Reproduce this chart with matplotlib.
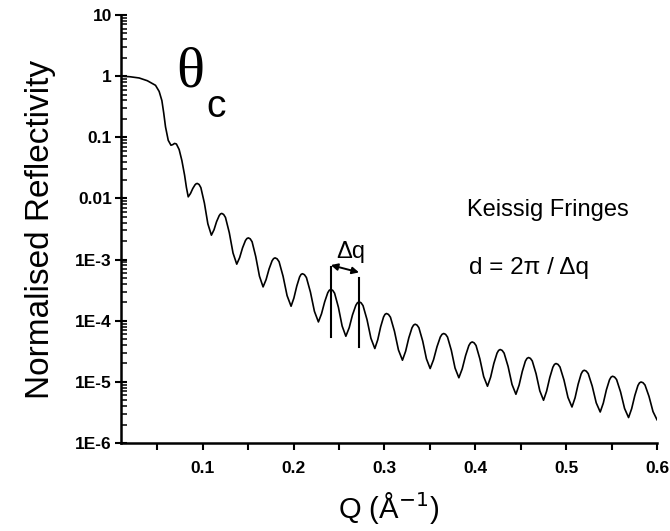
import numpy as np
import matplotlib
matplotlib.use("Agg")
import matplotlib.pyplot as plt
from matplotlib.ticker import FixedLocator, LogLocator, NullFormatter

# ---- data (Q in 1/Angstrom, log10 of reflectivity) ----
# plateau / critical edge
q_edge = [0.010, 0.020, 0.030, 0.039, 0.048, 0.052, 0.055, 0.057, 0.059, 0.062,
          0.065, 0.067, 0.069, 0.071, 0.074, 0.077, 0.080, 0.082]
log_r_edge = [0.000, -0.010, -0.030, -0.075, -0.150, -0.250, -0.400, -0.600, -0.830, -1.050,
              -1.130, -1.120, -1.100, -1.110, -1.200, -1.380, -1.620, -1.820]

# Kiessig fringes (trough -> peak -> towards next trough)
q_fringes = [
    0.0840, 0.0865, 0.0890, 0.0915, 0.09275, 0.0940, 0.09594, 0.0979, 0.1018, 0.1056,
    0.1095, 0.1124, 0.1152, 0.1181, 0.11948, 0.1209, 0.12296, 0.1250, 0.1292, 0.1333,
    0.1374, 0.1406, 0.1438, 0.1470, 0.1486, 0.1502, 0.15223, 0.1543, 0.1583, 0.1624,
    0.1664, 0.1697, 0.1730, 0.1763, 0.17795, 0.1796, 0.1818, 0.1840, 0.1884, 0.1928,
    0.1972, 0.2003, 0.2035, 0.2066, 0.20814, 0.2097, 0.2119, 0.2141, 0.2185, 0.2229,
    0.2273, 0.2307, 0.2342, 0.2376, 0.23929, 0.2410, 0.24306, 0.2451, 0.2493, 0.2534,
    0.2575, 0.2612, 0.2648, 0.2685, 0.27028, 0.2721, 0.27426, 0.2764, 0.2808, 0.2851,
    0.2894, 0.2926, 0.2958, 0.2990, 0.3006, 0.3022, 0.3044, 0.3066, 0.3110, 0.3154,
    0.3198, 0.3233, 0.3268, 0.3303, 0.33205, 0.3338, 0.33586, 0.3379, 0.3421, 0.3462,
    0.3503, 0.3540, 0.3578, 0.3615, 0.36334, 0.3652, 0.36729, 0.3694, 0.3736, 0.3777,
    0.3819, 0.3856, 0.3893, 0.3929, 0.39476, 0.3966, 0.3987, 0.4008, 0.4050, 0.4092,
    0.4134, 0.4169, 0.4204, 0.4239, 0.42565, 0.4274, 0.42956, 0.4317, 0.4361, 0.4404,
    0.4447, 0.4482, 0.4517, 0.4551, 0.45686, 0.4586, 0.46066, 0.4627, 0.4669, 0.4710,
    0.4751, 0.4785, 0.4820, 0.4854, 0.48709, 0.4888, 0.4910, 0.4932, 0.4976, 0.5020,
    0.5064, 0.5098, 0.5132, 0.5165, 0.51821, 0.5199, 0.5221, 0.5243, 0.5287, 0.5331,
    0.5375, 0.5409, 0.5443, 0.5477, 0.5494, 0.5511, 0.5533, 0.5555, 0.5599, 0.5643,
    0.5687, 0.5721, 0.5756, 0.5790, 0.58069, 0.5824, 0.5846, 0.5868, 0.5912, 0.5956, 0.6000,
]
log_r_fringes = [
    -1.974, -1.919, -1.838, -1.777, -1.760, -1.755, -1.772, -1.823, -2.076, -2.415,
    -2.601, -2.512, -2.380, -2.281, -2.254, -2.245, -2.262, -2.311, -2.560, -2.892,
    -3.075, -2.968, -2.808, -2.688, -2.656, -2.645, -2.661, -2.709, -2.950, -3.271,
    -3.447, -3.328, -3.153, -3.020, -2.984, -2.972, -2.988, -3.035, -3.273, -3.589,
    -3.763, -3.630, -3.433, -3.284, -3.244, -3.231, -3.247, -3.294, -3.531, -3.846,
    -4.020, -3.887, -3.691, -3.542, -3.502, -3.489, -3.504, -3.550, -3.780, -4.086,
    -4.254, -4.114, -3.906, -3.748, -3.706, -3.692, -3.707, -3.753, -3.982, -4.287,
    -4.455, -4.312, -4.100, -3.939, -3.896, -3.882, -3.897, -3.943, -4.172, -4.478,
    -4.646, -4.499, -4.281, -4.116, -4.072, -4.057, -4.072, -4.115, -4.333, -4.623,
    -4.782, -4.639, -4.427, -4.266, -4.223, -4.209, -4.223, -4.267, -4.484, -4.774,
    -4.933, -4.787, -4.570, -4.406, -4.362, -4.347, -4.362, -4.405, -4.623, -4.913,
    -5.072, -4.922, -4.699, -4.531, -4.486, -4.471, -4.486, -4.530, -4.749, -5.042,
    -5.203, -5.053, -4.830, -4.662, -4.617, -4.602, -4.616, -4.658, -4.868, -5.147,
    -5.301, -5.151, -4.928, -4.760, -4.715, -4.700, -4.714, -4.757, -4.970, -5.255,
    -5.411, -5.261, -5.038, -4.870, -4.825, -4.810, -4.824, -4.865, -5.070, -5.343,
    -5.493, -5.347, -5.130, -4.967, -4.923, -4.908, -4.922, -4.962, -5.165, -5.435,
    -5.584, -5.439, -5.223, -5.060, -5.017, -5.002, -5.014, -5.052, -5.238, -5.486, -5.620,
]

x_ticks = [0.1, 0.2, 0.3, 0.4, 0.5, 0.6]
x_tick_labels = ["0.1", "0.2", "0.3", "0.4", "0.5", "0.6"]
y_ticks = [1e-6, 1e-5, 1e-4, 1e-3, 1e-2, 1e-1, 1, 10]
y_tick_labels = ["1E-6", "1E-5", "1E-4", "1E-3", "0.01", "0.1", "1", "10"]

# fringe marker (two adjacent peaks)
fringe_q = [0.2409, 0.2720]
fringe_top = [10 ** -3.12, 10 ** -3.30]
fringe_bottom = [10 ** -4.265, 10 ** -4.43]

plt.rcParams["font.family"] = ["Liberation Sans", "DejaVu Sans"]

fig = plt.figure(figsize=(6.70, 5.31), dpi=100)
ax = fig.add_axes([121 / 670, 1 - 443 / 531, (657 - 121) / 670, (443 - 15) / 531])

q_all = q_edge + q_fringes
reflectivity = 10 ** np.array(log_r_edge + log_r_fringes)
ax.plot(q_all, reflectivity, color="black", lw=1.2, solid_joinstyle="round")

ax.set_yscale("log")
ax.set_xlim(0.01, 0.6)
ax.set_ylim(1e-6, 10)

for s in ["top", "right"]:
    ax.spines[s].set_visible(False)
for s in ["left", "bottom"]:
    ax.spines[s].set_linewidth(1.8)

ax.xaxis.set_major_locator(FixedLocator(x_ticks))
ax.set_xticklabels(x_tick_labels)
ax.xaxis.set_minor_locator(FixedLocator([0.05, 0.15, 0.25, 0.35, 0.45, 0.55]))
ax.yaxis.set_major_locator(FixedLocator(y_ticks))
ax.set_yticklabels(y_tick_labels)
ax.yaxis.set_minor_locator(LogLocator(base=10, subs=np.arange(2, 10), numticks=20))
ax.yaxis.set_minor_formatter(NullFormatter())

ax.tick_params(axis="x", which="both", direction="out", length=5, width=1.5,
               labelsize=12.5, pad=8)
ax.tick_params(axis="y", which="major", direction="inout", length=9, width=1.5,
               labelsize=12.5, pad=2)
ax.tick_params(axis="y", which="minor", direction="in", length=4, width=1.1)
for lab in ax.get_xticklabels() + ax.get_yticklabels():
    lab.set_fontweight("bold")

ax.set_ylabel("Normalised Reflectivity", fontsize=24, labelpad=14)
ax.set_xlabel("Q (Å$^{-1}$)", fontsize=21, labelpad=10)

# critical angle label
ax.text(0.0705, 10 ** 0.06, "θ", fontsize=42, family=["Liberation Serif"],
        va="center", ha="left")
ax.text(0.1045, 10 ** -0.50, "c", fontsize=28, va="center", ha="left")

# fringe period marker
for xq, yt, yb in zip(fringe_q, fringe_top, fringe_bottom):
    ax.plot([xq, xq], [yb, yt], color="black", lw=1.5)
ax.annotate("", xy=(fringe_q[1], 10 ** -3.21), xytext=(fringe_q[0], 10 ** -3.09),
            arrowprops=dict(arrowstyle="<|-|>", color="black", lw=1.4,
                            mutation_scale=10, shrinkA=0, shrinkB=0))
ax.text(0.2625, 10 ** -2.88, "Δq", fontsize=17, ha="center", va="center")

ax.text(0.391, 10 ** -2.19, "Keissig Fringes", fontsize=17, ha="left", va="center")
ax.text(0.393, 10 ** -3.14, "d = 2π / Δq", fontsize=17.5, ha="left", va="center")

fig.savefig("out.png", dpi=100)
